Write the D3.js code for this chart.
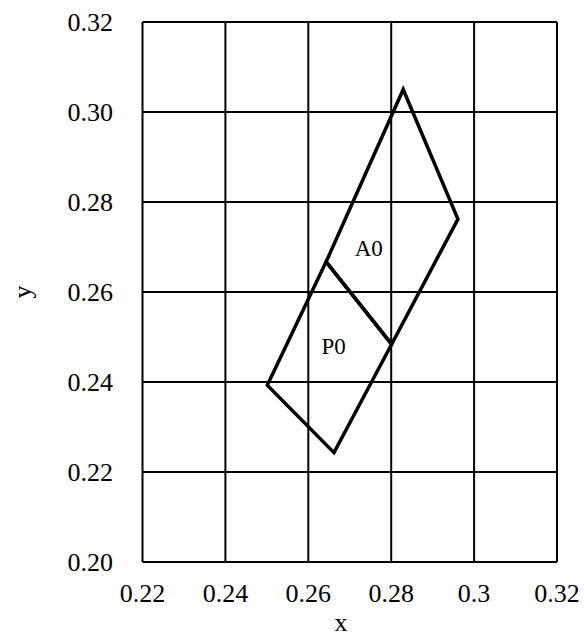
<!DOCTYPE html>
<html>
<head>
<meta charset="utf-8">
<script src="https://cdn.jsdelivr.net/npm/d3@7"></script>
<style>
  body { margin: 0; background: #fff; }
  svg text { font-family: "Liberation Serif", "Times New Roman", serif; fill: #000; }
</style>
</head>
<body>
<svg id="chart"></svg>
<script>
// values
const xTicks = [0.22, 0.24, 0.26, 0.28, 0.3, 0.32];
const yTicks = [0.20, 0.22, 0.24, 0.26, 0.28, 0.30, 0.32];
const xTickLabels = ["0.22", "0.24", "0.26", "0.28", "0.3", "0.32"];
const yTickLabels = ["0.20", "0.22", "0.24", "0.26", "0.28", "0.30", "0.32"];

const p0X = [0.2501, 0.2643, 0.2801, 0.2662];
const p0Y = [0.2393, 0.2667, 0.2484, 0.2243];
const a0X = [0.2643, 0.2829, 0.2961, 0.2801];
const a0Y = [0.2667, 0.3050, 0.2762, 0.2484];

const regionNames = ["A0", "P0"];
const labelX = [0.2746, 0.2661];
const labelY = [0.2698, 0.2480];

const width = 584;
const height = 638;
const margin = { left: 142.5, right: 27, top: 22, bottom: 76 };

const svg = d3.select("#chart")
  .attr("width", width)
  .attr("height", height);

const x = d3.scaleLinear()
  .domain([0.22, 0.32])
  .range([margin.left, width - margin.right]);

const y = d3.scaleLinear()
  .domain([0.20, 0.32])
  .range([height - margin.bottom, margin.top]);

// Grid
svg.append("g")
  .selectAll("line")
  .data(xTicks)
  .enter()
  .append("line")
  .attr("x1", d => x(d))
  .attr("x2", d => x(d))
  .attr("y1", y(0.20))
  .attr("y2", y(0.32))
  .attr("stroke", "#000")
  .attr("stroke-width", 2);

svg.append("g")
  .selectAll("line")
  .data(yTicks)
  .enter()
  .append("line")
  .attr("x1", x(0.22))
  .attr("x2", x(0.32))
  .attr("y1", d => y(d))
  .attr("y2", d => y(d))
  .attr("stroke", "#000")
  .attr("stroke-width", 2);

// Tick labels
svg.append("g")
  .selectAll("text")
  .data(xTicks)
  .enter()
  .append("text")
  .attr("x", d => x(d))
  .attr("y", y(0.20) + 40)
  .attr("text-anchor", "middle")
  .style("font-size", "26px")
  .text((d, i) => xTickLabels[i]);

svg.append("g")
  .selectAll("text")
  .data(yTicks)
  .enter()
  .append("text")
  .attr("x", x(0.22) - 29.5)
  .attr("y", d => y(d))
  .attr("dy", "0.34em")
  .attr("text-anchor", "end")
  .style("font-size", "26px")
  .text((d, i) => yTickLabels[i]);

// Axis titles
svg.append("text")
  .attr("x", 341)
  .attr("y", 631)
  .attr("text-anchor", "middle")
  .style("font-size", "26px")
  .text("x");

svg.append("text")
  .attr("transform", `translate(31, ${y(0.26)}) rotate(-90)`)
  .attr("text-anchor", "middle")
  .style("font-size", "26px")
  .text("y");

// Regions
const line = d3.line().curve(d3.curveLinearClosed);
const polys = [
  a0X.map((v, i) => [x(v), y(a0Y[i])]),
  p0X.map((v, i) => [x(v), y(p0Y[i])])
];

svg.append("g")
  .selectAll("path")
  .data(polys)
  .enter()
  .append("path")
  .attr("d", d => line(d))
  .attr("fill", "none")
  .attr("stroke", "#000")
  .attr("stroke-width", 3.5)
  .attr("stroke-linejoin", "miter");

svg.append("g")
  .selectAll("text")
  .data(regionNames)
  .enter()
  .append("text")
  .attr("x", (d, i) => x(labelX[i]))
  .attr("y", (d, i) => y(labelY[i]))
  .attr("dy", "0.34em")
  .attr("text-anchor", "middle")
  .style("font-size", "23px")
  .text(d => d);
</script>
</body>
</html>
